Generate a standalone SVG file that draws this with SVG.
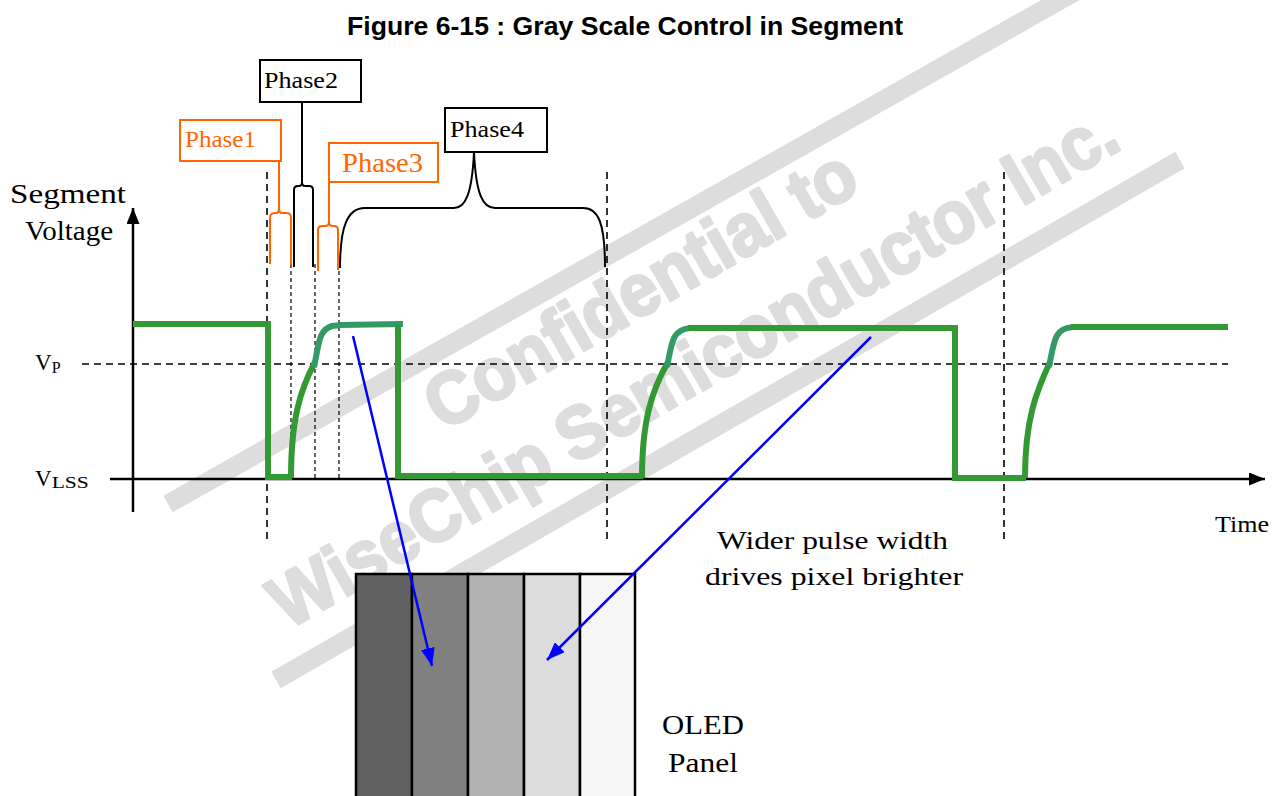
<svg xmlns="http://www.w3.org/2000/svg" width="1282" height="796" viewBox="0 0 1282 796">
<defs>
<style>
.t{font-family:"Liberation Serif","Times New Roman",serif;fill:#000}
.or{fill:#FF6600}
.wm{font-family:"Liberation Sans",Arial,sans-serif;font-weight:bold;fill:#DDDDDD;stroke:#DDDDDD;stroke-width:3;stroke-linejoin:round}
.band{stroke:#DDDDDD;stroke-width:19;fill:none}
.g{fill:none;stroke:#339933;stroke-width:6;stroke-linejoin:miter}
.tl{fill:none;stroke:#339966;stroke-width:6;stroke-linecap:butt}
.ld{fill:none;stroke:#000;stroke-width:1.6;stroke-dasharray:7 5}
.sd{fill:none;stroke:#000;stroke-width:1.2;stroke-dasharray:4 3}
.box{fill:#fff;stroke:#000;stroke-width:2}
.obox{fill:#fff;stroke:#FF6600;stroke-width:2}
.br{fill:none;stroke:#000;stroke-width:2}
.obr{fill:none;stroke:#FF6600;stroke-width:2}
.ax{fill:none;stroke:#000;stroke-width:2.5}
.blue{fill:none;stroke:#0000FF;stroke-width:2.5}
.cell{stroke:#000;stroke-width:2.5}
</style>
<marker id="ab" markerUnits="userSpaceOnUse" markerWidth="18" markerHeight="14" viewBox="0 0 18 14" refX="18" refY="7" orient="auto">
<path d="M0,0 L18,7 L0,14 Z" fill="#0000FF"/>
</marker>
<marker id="ak" markerUnits="userSpaceOnUse" markerWidth="16" markerHeight="13" viewBox="0 0 16 13" refX="16" refY="6.5" orient="auto">
<path d="M0,0 L16,6.5 L0,13 Z" fill="#000"/>
</marker>
</defs>
<rect width="1282" height="796" fill="#fff"/>

<g id="watermark">
<line class="band" x1="168" y1="504" x2="1087" y2="-15"/>
<line class="band" x1="276" y1="680" x2="1180" y2="160"/>
<text class="wm" font-size="74" transform="translate(443,432) rotate(-30)" textLength="485" lengthAdjust="spacingAndGlyphs">Confidential to</text>
<text class="wm" font-size="74" transform="translate(288,630) rotate(-30)" textLength="965" lengthAdjust="spacingAndGlyphs">WiseChip Semiconductor Inc.</text>
</g>

<text id="title" x="347" y="35" font-family="Liberation Sans, Arial, sans-serif" font-weight="bold" font-size="25" textLength="556" lengthAdjust="spacingAndGlyphs">Figure 6-15 : Gray Scale Control in Segment</text>

<g id="axes">
<line class="ax" x1="133" y1="512" x2="133" y2="208" marker-end="url(#ak)"/>
<line class="ax" x1="110" y1="479" x2="1265" y2="479" marker-end="url(#ak)"/>
<line class="ld" x1="82" y1="364" x2="1228" y2="364" stroke-dasharray="6 4"/>
<line class="ld" x1="267" y1="172" x2="267" y2="540"/>
<line class="ld" x1="607" y1="172" x2="607" y2="540"/>
<line class="ld" x1="1004" y1="172" x2="1004" y2="540"/>
<line class="sd" x1="291" y1="264" x2="291" y2="479"/>
<line class="sd" x1="315" y1="264" x2="315" y2="479"/>
<line class="sd" x1="339" y1="264" x2="339" y2="479"/>
</g>

<g id="axis-labels">
<text class="t" x="10" y="203" font-size="27" textLength="116" lengthAdjust="spacingAndGlyphs">Segment</text>
<text class="t" x="25" y="240" font-size="27" textLength="88" lengthAdjust="spacingAndGlyphs">Voltage</text>
<text class="t" x="35" y="370" font-size="23">V<tspan font-size="16" dy="3">P</tspan></text>
<text class="t" x="35" y="486" font-size="23">V<tspan font-size="16" dy="2" textLength="37" lengthAdjust="spacingAndGlyphs">LSS</tspan></text>
<text class="t" x="1215" y="532" font-size="24" textLength="54" lengthAdjust="spacingAndGlyphs">Time</text>
</g>

<g id="waveform">
<path class="g" d="M133,324 H268 V477 H292"/>
<path class="g" d="M291,478 C291,420 300,390 315,362"/>
<path class="tl" d="M314,367 C319,345 318,330 332,326 L342,325"/>
<path class="tl" d="M340,325 L403,324"/>
<path class="g" d="M398,325 V476 H643"/>
<path class="g" d="M642,478 C642,420 652,390 668,362"/>
<path class="tl" d="M667,367 C672,342 672,330 690,328"/>
<path class="g" d="M688,328 H955 V478 H1026"/>
<path class="g" d="M1025,478 C1025,420 1036,392 1050,362"/>
<path class="tl" d="M1049,367 C1054,342 1054,328 1073,327"/>
<path class="g" d="M1071,327 H1228"/>
</g>

<g id="phase1">
<rect class="obox" x="180" y="120" width="101" height="41"/>
<text class="t or" x="185" y="147" font-size="24" textLength="71" lengthAdjust="spacingAndGlyphs">Phase1</text>
<path class="obr" d="M270,264 L270,218 Q270,213 275,213 L276,213 Q279,213 279,208 L279,161 M279,208 Q279,213 282,213 L287,213 Q291,213 291,218 L291,265"/>
</g>

<g id="phase2">
<rect class="box" x="260" y="60" width="101" height="42"/>
<text class="t" x="264" y="88" font-size="24" textLength="74" lengthAdjust="spacingAndGlyphs">Phase2</text>
<path class="br" d="M294,267 L294,190 Q294,186 298,186 L299,186 Q302,186 302,182 L302,102 M302,182 Q302,186 305,186 L309,186 Q313,186 313,190 L313,267"/>
</g>

<g id="phase3">
<rect class="obox" x="329" y="143" width="109" height="39"/>
<text class="t or" x="342" y="172" font-size="27" textLength="81" lengthAdjust="spacingAndGlyphs">Phase3</text>
<path class="obr" d="M318,271 L318,230 Q318,226 322,226 L325,226 Q329,226 329,222 L329,182 M329,222 Q329,226 333,226 L334,226 Q338,226 338,230 L338,270"/>
</g>

<g id="phase4">
<rect class="box" x="445" y="108" width="102" height="44"/>
<text class="t" x="450" y="137" font-size="24" textLength="74" lengthAdjust="spacingAndGlyphs">Phase4</text>
<path class="br" d="M340,268 C340,225 348,208 365,208 L454,208 C465,208 472,195 474,152 C476,195 483,208 495,208 L583,208 C598,208 605,222 605,267"/>
</g>

<g id="panel">
<rect class="cell" x="356" y="574" width="56" height="240" fill="#606060"/>
<rect class="cell" x="412" y="574" width="56" height="240" fill="#808080"/>
<rect class="cell" x="468" y="574" width="56" height="240" fill="#B0B0B0"/>
<rect class="cell" x="524" y="574" width="56" height="240" fill="#DCDCDC"/>
<rect class="cell" x="580" y="574" width="55" height="240" fill="#F6F6F6"/>
<text class="t" x="662" y="734" font-size="27" textLength="82" lengthAdjust="spacingAndGlyphs">OLED</text>
<text class="t" x="668" y="772" font-size="27" textLength="70" lengthAdjust="spacingAndGlyphs">Panel</text>
</g>

<g id="note">
<text class="t" x="717" y="549" font-size="26" textLength="231" lengthAdjust="spacingAndGlyphs">Wider pulse width</text>
<text class="t" x="705" y="585" font-size="26" textLength="258" lengthAdjust="spacingAndGlyphs">drives pixel brighter</text>
</g>

<g id="connectors">
<line class="blue" x1="353" y1="336" x2="432" y2="666" marker-end="url(#ab)"/>
<line class="blue" x1="871" y1="337" x2="547" y2="660" marker-end="url(#ab)"/>
</g>
</svg>
